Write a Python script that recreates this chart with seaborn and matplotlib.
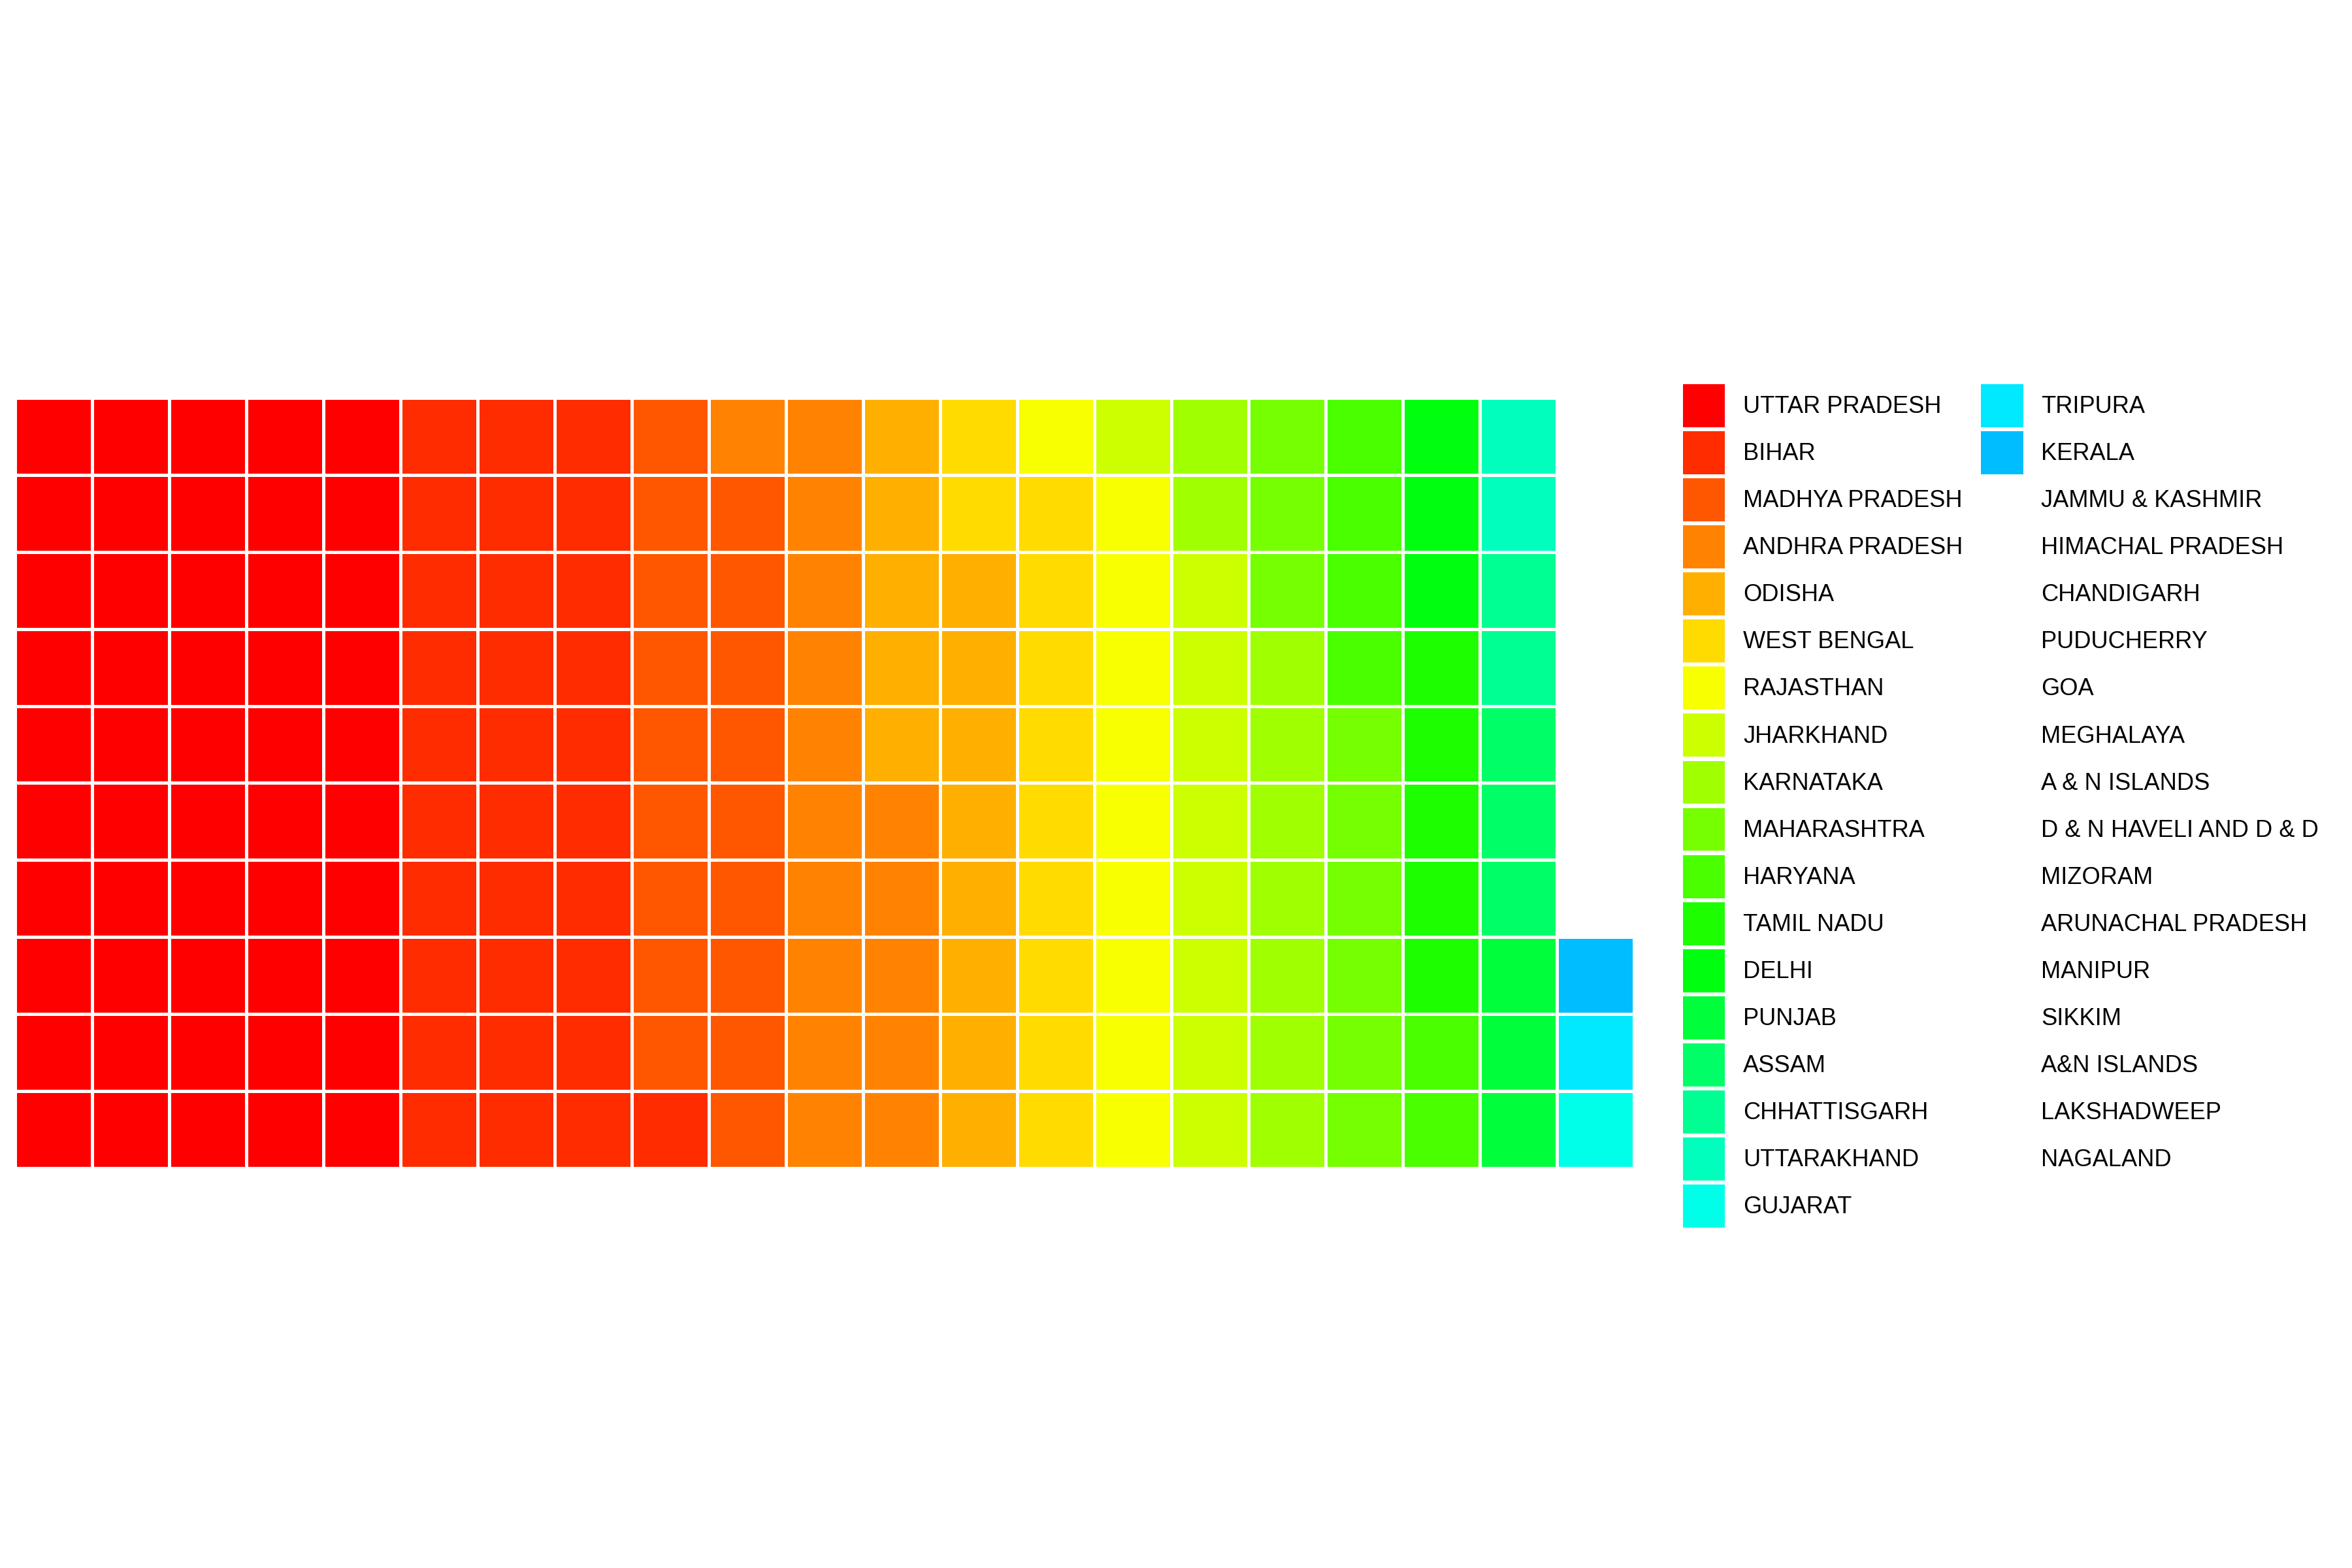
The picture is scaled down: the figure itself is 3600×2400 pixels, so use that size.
import numpy as np
import seaborn as sns
import matplotlib.pyplot as plt
from matplotlib.colors import ListedColormap
from matplotlib.patches import Patch

states = ['UTTAR PRADESH', 'BIHAR', 'MADHYA PRADESH', 'ANDHRA PRADESH', 'ODISHA',
          'WEST BENGAL', 'RAJASTHAN', 'JHARKHAND', 'KARNATAKA', 'MAHARASHTRA',
          'HARYANA', 'TAMIL NADU', 'DELHI', 'PUNJAB', 'ASSAM', 'CHHATTISGARH',
          'UTTARAKHAND', 'GUJARAT', 'TRIPURA', 'KERALA', 'JAMMU & KASHMIR',
          'HIMACHAL PRADESH', 'CHANDIGARH', 'PUDUCHERRY', 'GOA', 'MEGHALAYA',
          'A & N ISLANDS', 'D & N HAVELI AND D & D', 'MIZORAM', 'ARUNACHAL PRADESH',
          'MANIPUR', 'SIKKIM', 'A&N ISLANDS', 'LAKSHADWEEP', 'NAGALAND']
counts = [50, 31, 18, 16, 13, 11, 10, 9, 9, 9, 6, 5, 3, 3, 3, 2, 2, 1, 1, 1,
          0, 0, 0, 0, 0, 0, 0, 0, 0, 0, 0, 0, 0, 0, 0]
n_rows = 10

sns.set_theme(style='white')
plt.rcParams['font.family'] = ['Liberation Sans', 'DejaVu Sans']
plt.rcParams['text.color'] = 'black'

# rainbow palette over all levels, only the used ones show up in the tiles
colors = sns.hls_palette(len(states), h=0, l=0.5, s=1)
n_used = sum(1 for c in counts if c > 0)

# waffle grid: fill column by column, bottom to top
cells = np.repeat(np.arange(len(states)), counts).astype(float)
n_cols = int(np.ceil(len(cells) / n_rows))
flat = np.full(n_rows * n_cols, np.nan)
flat[:len(cells)] = cells
grid = flat.reshape(n_cols, n_rows).T

fig = plt.figure(figsize=(12, 8), dpi=300)
ax = fig.add_axes([0.0064, 0.255, 0.6883, 0.4913])
sns.heatmap(grid, mask=np.isnan(grid), cmap=ListedColormap(colors[:n_used]),
            vmin=-0.5, vmax=n_used - 0.5, cbar=False,
            linewidths=0.8, linecolor='white',
            xticklabels=False, yticklabels=False, ax=ax)
ax.invert_yaxis()
ax.axis('off')

handles = []
for i, name in enumerate(states):
    if counts[i] > 0:
        handles.append(Patch(facecolor=colors[i], edgecolor='none', label=name))
    else:
        handles.append(Patch(facecolor='none', edgecolor='none', label=name))

fig.legend(handles=handles, loc='upper left', bbox_to_anchor=(0.7156, 0.755),
           ncol=2, frameon=False, fontsize=8.7, labelcolor='black',
           borderpad=0, borderaxespad=0,
           handlelength=1.77, handleheight=2.42, labelspacing=0.17,
           handletextpad=0.77, columnspacing=0.77)

plt.savefig('out.png', dpi=300)
